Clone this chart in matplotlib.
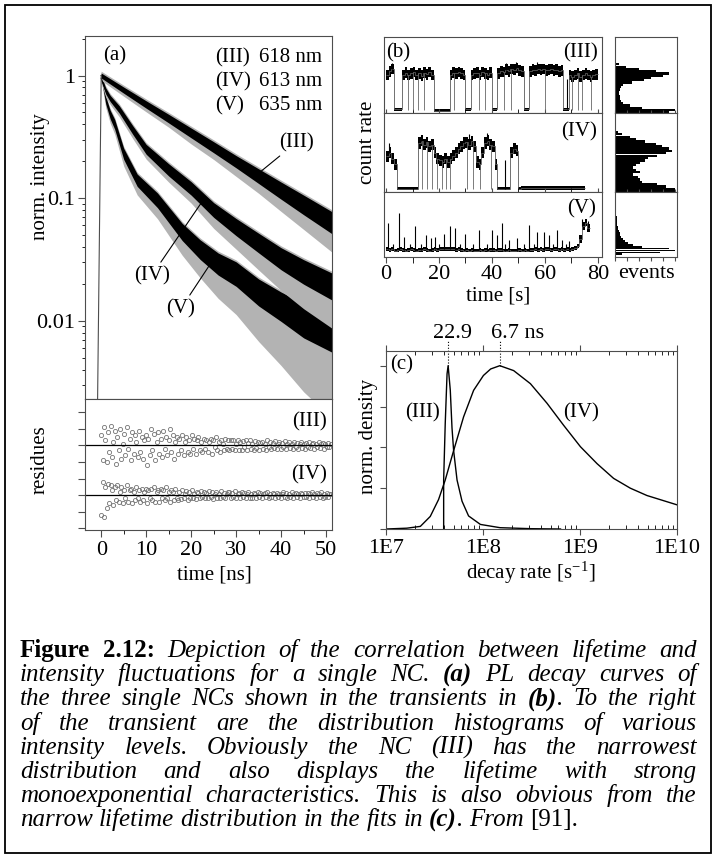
import numpy as np
from matplotlib import pyplot as plt
from matplotlib.patches import Rectangle
from matplotlib.ticker import FixedLocator, NullFormatter, LogLocator, MultipleLocator

plt.rcParams['font.family'] = ['Liberation Serif', 'DejaVu Serif']
plt.rcParams['mathtext.fontset'] = 'stix'

W, H = 717, 859
FS = 15
TFS = 16
EDGE = '0.3'

# ---------------- (a) PL decays: band centre, core half width, lower spike reach (decades)
t_III = [0, 5, 10, 15, 20, 25, 30, 35, 40, 45, 51.3]
c_III = [1.0, 0.76, 0.58, 0.445, 0.34, 0.26, 0.198, 0.151, 0.115, 0.088, 0.063]
w_III = [0.02, 0.025, 0.03, 0.035, 0.04, 0.045, 0.05, 0.06, 0.07, 0.08, 0.09]
o_III = [0.04, 0.05, 0.06, 0.07, 0.09, 0.10, 0.12, 0.14, 0.17, 0.20, 0.24]

t_IV = [0, 1, 2, 4, 7, 10, 15, 20, 25, 30, 35, 40, 45, 51.3]
c_IV = [0.95, 0.75, 0.65, 0.53, 0.36, 0.25, 0.17, 0.12, 0.08, 0.058, 0.043, 0.032, 0.025, 0.019]
w_IV = [0.02, 0.025, 0.025, 0.03, 0.035, 0.04, 0.05, 0.055, 0.06, 0.07, 0.08, 0.09, 0.10, 0.11]
o_IV = [0.04, 0.05, 0.05, 0.06, 0.07, 0.08, 0.10, 0.12, 0.15, 0.18, 0.22, 0.26, 0.30, 0.34]

t_V = [0, 1, 2, 3, 5, 8, 12.5, 18, 22, 26, 30, 35, 40, 45, 51.3]
c_V = [1.0, 0.63, 0.48, 0.40, 0.23, 0.14, 0.096, 0.053, 0.038, 0.029, 0.024, 0.017, 0.013, 0.010, 0.008]
w_V = [0.02, 0.03, 0.035, 0.04, 0.045, 0.05, 0.06, 0.07, 0.08, 0.09, 0.10, 0.11, 0.12, 0.14, 0.16]
o_V = [0.04, 0.06, 0.07, 0.08, 0.10, 0.12, 0.15, 0.19, 0.23, 0.28, 0.33, 0.40, 0.48, 0.58, 0.70]

rise_t = [-0.8, 0.0]
rise_y = [0.0023, 1.0]

# residues (units of one tick), equally spaced channels from 0 to 51 ns
res_III = [0.6, -0.9, 1.1, 0.3, -1.0, 0.8, -0.4, 1.2, -0.7, 0.2, 0.9, -1.1, 0.5, -0.3, 1.0, -0.8, 0.1, 0.7, -0.6,
           1.1, -0.2, 0.4, -0.9, 0.8, -0.5, 0.6, 0.2, -0.7, 0.9, -0.4, 0.5, -0.8, 0.3, 0.6, -1.2, 0.4, -0.6, 1.0,
           -0.3, 0.7, -0.9, 0.2, 0.8, -0.5, 0.4, -0.7, 0.9, -0.2, 0.5, -0.6, 0.3, 1.0, -0.4, 0.6, -0.8, 0.2, 0.5,
           -0.5, 0.4, -0.3, 0.6, -0.6, 0.2, 0.5, -0.4, 0.3, -0.5, 0.6, -0.2, 0.4, -0.5, 0.3, 0.5, -0.3, 0.2, -0.4,
           0.4, -0.2, 0.3, -0.4, 0.2, 0.4, -0.5, 0.3, -0.1, 0.5, -0.3, 0.2, -0.4, 0.3, 0.1, -0.3, 0.4, -0.2, 0.3,
           -0.3, 0.3, -0.2, 0.35, -0.3, 0.1, 0.3, -0.25, 0.2, -0.3, 0.25, -0.1, 0.3, -0.25, 0.15, 0.3, -0.2, 0.1, -0.3,
           0.25, -0.15, 0.2, -0.25, 0.15, 0.2, -0.2, 0.1, -0.25, 0.3, -0.1, 0.2, -0.2, 0.15, -0.15, 0.25, -0.2, 0.1, 0.2,
           -0.2, 0.15, -0.1, 0.25, -0.2, 0.1, 0.2, -0.15, 0.1, -0.2, 0.2, -0.1, 0.15, -0.2, 0.1, 0.2, -0.15, 0.1, -0.2,
           0.15, -0.1, 0.2, -0.15, 0.1, 0.15, -0.2, 0.1, -0.1, 0.2, -0.15, 0.1, 0.15, -0.2, 0.1, -0.1, 0.15, -0.1, 0.1]
res_IV = [-1.2, 0.8, -1.3, 0.5, -0.8, 0.7, -0.5, 0.6, 0.3, -0.6, 0.5, -0.3, 0.6, -0.4, 0.2, 0.5, -0.5, 0.3, -0.2,
          0.6, -0.4, 0.3, 0.4, -0.5, 0.2, -0.3, 0.5, -0.2, 0.3, -0.4, 0.4, -0.3, 0.2, 0.4, -0.5, 0.3, -0.2, 0.4,
          -0.3, 0.5, -0.4, 0.2, 0.3, -0.4, 0.4, -0.2, 0.3, -0.3, 0.5, -0.2, 0.2, -0.4, 0.3, 0.2, -0.3, 0.4, -0.2,
          -0.3, 0.2, -0.25, 0.3, -0.2, 0.1, 0.25, -0.3, 0.2, -0.15, 0.3, -0.2, 0.1, -0.25, 0.2, 0.15, -0.2, 0.25, -0.1,
          0.2, -0.2, 0.15, -0.15, 0.25, -0.1, 0.2, -0.25, 0.1, 0.2, -0.15, 0.1, -0.2, 0.25, -0.1, 0.15, -0.2, 0.1, 0.2,
          0.2, -0.2, 0.15, -0.1, 0.25, -0.2, 0.1, 0.15, -0.2, 0.2, -0.1, 0.15, -0.2, 0.1, 0.2, -0.15, 0.1, -0.2, 0.15,
          0.1, -0.15, 0.2, -0.1, 0.15, -0.2, 0.1, 0.15, -0.1, 0.2, -0.15, 0.1, -0.1, 0.15, 0.1, -0.2, 0.15, -0.1, 0.1,
          -0.15, 0.1, 0.2, -0.1, 0.15, -0.15, 0.1, -0.1, 0.2, -0.15, 0.1, 0.15, -0.1, 0.1, -0.2, 0.15, 0.1, -0.1, 0.15,
          -0.1, 0.15, -0.15, 0.1, 0.2, -0.1, 0.1, -0.15, 0.15, 0.1, -0.1, 0.2, -0.15, 0.1, -0.1, 0.15, -0.1, 0.1, 0.1]
res_t = np.linspace(0, 51, len(res_III))

# ---------------- (b) transients, 1 s bins, normalised count rate per strip
tr_III = [0.50, 0.55, 0.58, 0.05, 0.05, 0.05, 0.50, 0.53, 0.50, 0.52, 0.54, 0.50, 0.52, 0.49, 0.53,
          0.51, 0.54, 0.50, 0.03, 0.03, 0.03, 0.03, 0.03, 0.03, 0.50, 0.53, 0.52, 0.54, 0.52, 0.50,
          0.05, 0.05, 0.50, 0.52, 0.53, 0.50, 0.54, 0.52, 0.50, 0.53, 0.05, 0.05, 0.52, 0.55, 0.54,
          0.57, 0.55, 0.58, 0.57, 0.59, 0.56, 0.55, 0.05, 0.05, 0.55, 0.57, 0.56, 0.58, 0.57, 0.58,
          0.56, 0.57, 0.58, 0.56, 0.57, 0.55, 0.56, 0.05, 0.05, 0.50, 0.48, 0.50, 0.52, 0.48, 0.50,
          0.52, 0.50, 0.48, 0.50, 0.51]
up_III = [(2.3, 0.66), (45.5, 0.66), (49.2, 0.67), (57.0, 0.67), (68.3, 0.45)]
dip_III = [8.3, 10.2, 12.2, 14.4, 25.8, 35.2, 37.2, 44.6, 47.2, 60.1, 70.3, 72.6, 74.2, 77.3]

tr_IV = [0.45, 0.50, 0.42, 0.35, 0.04, 0.04, 0.04, 0.04, 0.04, 0.04, 0.04, 0.04, 0.62, 0.65, 0.60,
         0.63, 0.58, 0.60, 0.50, 0.42, 0.40, 0.38, 0.42, 0.38, 0.42, 0.46, 0.50, 0.55, 0.58, 0.62,
         0.63, 0.60, 0.64, 0.58, 0.38, 0.35, 0.50, 0.62, 0.65, 0.60, 0.58, 0.35, 0.04, 0.04, 0.04,
         0.04, 0.04, 0.50, 0.55, 0.52, 0.04, 0.05, 0.05, 0.05, 0.05, 0.05, 0.05, 0.05, 0.05, 0.05,
         0.05, 0.05, 0.05, 0.05, 0.05, 0.05, 0.05, 0.05, 0.05, 0.05, 0.05, 0.05, 0.05, 0.05, 0.05]
up_IV = [(1.0, 0.62), (13.2, 0.72), (29.5, 0.70), (31.3, 0.74), (38.3, 0.75), (44.8, 0.40), (48.5, 0.62)]
dip_IV = [13.5, 15.5, 17.5, 19.3, 21.0, 22.5, 24.3, 30.5, 33.0, 35.5, 39.5]

tr_V = [0.12, 0.11, 0.12, 0.10, 0.11, 0.12, 0.11, 0.10, 0.11, 0.12,
        0.11, 0.10, 0.11, 0.11, 0.12, 0.11, 0.10, 0.11, 0.12, 0.11,
        0.12, 0.13, 0.12, 0.12, 0.13, 0.12, 0.11, 0.12, 0.11, 0.10,
        0.11, 0.10, 0.11, 0.10, 0.10, 0.11, 0.10, 0.11, 0.10, 0.11,
        0.11, 0.10, 0.11, 0.11, 0.10, 0.10, 0.11, 0.10, 0.10, 0.10,
        0.11, 0.10, 0.11, 0.10, 0.11, 0.11, 0.12, 0.11, 0.12, 0.11,
        0.12, 0.12, 0.11, 0.12, 0.12, 0.11, 0.12, 0.11, 0.12, 0.11,
        0.12, 0.14, 0.17, 0.28, 0.48, 0.53, 0.45]
up_V = [(0.8, 0.52), (2.5, 0.2), (4.8, 0.67), (6.7, 0.31), (9.0, 0.2), (11.1, 0.47), (13.0, 0.2),
        (14.9, 0.34), (16.8, 0.29), (18.6, 0.31), (20.0, 0.2), (21.8, 0.36), (24.3, 0.47),
        (26.2, 0.44), (28.0, 0.2), (30.0, 0.36), (33.0, 0.2), (35.0, 0.42), (38.0, 0.2),
        (40.1, 0.42), (42.0, 0.34), (43.8, 0.52), (45.0, 0.2), (46.4, 0.26), (49.5, 0.29),
        (52.0, 0.2), (53.9, 0.49), (56.0, 0.2), (57.1, 0.39), (59.6, 0.39), (61.5, 0.34),
        (63.0, 0.2), (64.6, 0.42), (66.5, 0.26), (68.0, 0.2), (69.0, 0.24), (74.0, 0.58), (76.3, 0.56)]

# histograms of the count rate (bin centre in strip units, relative events)
hy_III = [0.67, 0.64, 0.61, 0.58, 0.55, 0.52, 0.49, 0.46, 0.43, 0.40, 0.37, 0.34, 0.31, 0.28,
          0.25, 0.22, 0.19, 0.16, 0.13, 0.10, 0.07, 0.04, 0.01]
hn_III = [0.02, 0.06, 0.18, 0.40, 0.68, 0.89, 0.80, 0.60, 0.48, 0.28, 0.14, 0.10, 0.08, 0.06,
          0.07, 0.09, 0.08, 0.10, 0.14, 0.25, 0.45, 1.0, 0.9]
hy_IV = [0.79, 0.76, 0.73, 0.70, 0.67, 0.64, 0.61, 0.58, 0.55, 0.52, 0.49, 0.46, 0.43, 0.40,
         0.37, 0.34, 0.31, 0.28, 0.25, 0.22, 0.19, 0.16, 0.13, 0.10, 0.07, 0.04, 0.01]
hn_IV = [0.02, 0.05, 0.12, 0.25, 0.35, 0.50, 0.68, 0.78, 0.90, 0.95, 0.85, 0.70, 0.55, 0.50,
         0.42, 0.35, 0.30, 0.35, 0.42, 0.30, 0.38, 0.42, 0.45, 0.70, 0.85, 1.0, 1.0]
hy_V = [0.04, 0.07, 0.10, 0.13, 0.16, 0.19, 0.22, 0.25, 0.28, 0.31, 0.34, 0.37, 0.40, 0.43,
        0.46, 0.49, 0.52, 0.55, 0.58, 0.61, 0.64, 0.67, 0.70, 0.73, 0.76, 0.79, 0.82, 0.85]
hn_V = [0.12, 0.75, 1.0, 0.9, 0.45, 0.30, 0.22, 0.16, 0.13, 0.10, 0.09, 0.075, 0.065, 0.055,
        0.05, 0.04, 0.035, 0.03, 0.03, 0.025, 0.02, 0.02, 0.018, 0.015, 0.015, 0.012, 0.01, 0.01]

# ---------------- (c) lifetime distributions
rate_III = [3.93e7, 3.93e7, 4.08e7, 4.26e7, 4.37e7, 4.6e7, 4.79e7, 4.98e7, 5.4e7, 6.08e7, 7.1e7,
            9.4e7, 1.5e8, 3.1e8, 6.3e8]
dens_III = [0.0, 0.30, 0.646, 0.95, 1.0, 0.85, 0.62, 0.48, 0.30, 0.17, 0.08, 0.028, 0.008, 0.002, 0.0]
rate_IV = [1.0e7, 1.64e7, 2.26e7, 2.86e7, 3.48e7, 4.08e7, 4.98e7, 6.31e7, 8.0e7, 1.01e8, 1.2e8,
           1.49e8, 2.07e8, 3.08e8, 4.57e8, 6.76e8, 1.01e9, 1.5e9, 2.22e9, 3.3e9, 4.9e9, 1.0e10]
dens_IV = [0.0, 0.005, 0.016, 0.077, 0.18, 0.30, 0.48, 0.687, 0.849, 0.94, 0.98, 1.0, 0.97,
           0.89, 0.77, 0.636, 0.504, 0.40, 0.31, 0.25, 0.205, 0.148]
tau_labels = [22.9, 6.7]  # ns, peak positions


def B(s):
    return [(s, 'b')]


def BI(s):
    return [(s, 'bi')]


CAPTION = [
    [B('Figure'), B('2.12:'), 'Depiction', 'of', 'the', 'correlation', 'between', 'lifetime', 'and'],
    ['intensity', 'fluctuations', 'for', 'a', 'single', 'NC.', BI('(a)'), 'PL', 'decay', 'curves', 'of'],
    ['the', 'three', 'single', 'NCs', 'shown', 'in', 'the', 'transients', 'in', BI('(b)') + [('.', 'i')],
     'To', 'the', 'right'],
    ['of', 'the', 'transient', 'are', 'the', 'distribution', 'histograms', 'of', 'various'],
    ['intensity', 'levels.', 'Obviously', 'the', 'NC', '(III)', 'has', 'the', 'narrowest'],
    ['distribution', 'and', 'also', 'displays', 'the', 'lifetime', 'with', 'strong'],
    ['monoexponential', 'characteristics.', 'This', 'is', 'also', 'obvious', 'from', 'the'],
    ['narrow', 'lifetime', 'distribution', 'in', 'the', 'fits', 'in', BI('(c)') + [('.', 'i')], 'From',
     [('[91].', 'r')]],
]

fig = plt.figure(figsize=(W / 100, H / 100), dpi=100)


def px_axes(l, t, r, b):
    ax = fig.add_axes([l / W, 1 - b / H, (r - l) / W, (b - t) / H])
    for s in ax.spines.values():
        s.set_color(EDGE)
    ax.tick_params(colors=EDGE, labelcolor='k', labelsize=TFS)
    return ax


def px_text(x, y, s, **kw):
    kw.setdefault('ha', 'center')
    kw.setdefault('va', 'center')
    kw.setdefault('fontsize', FS)
    return fig.text(x / W, 1 - y / H, s, **kw)


# ---------------- panel (a)
ax_a = px_axes(85, 36, 332, 399)
ax_a.set_yscale('log')
for t, c, w, o in [(t_V, c_V, w_V, o_V), (t_IV, c_IV, w_IV, o_IV), (t_III, c_III, w_III, o_III)]:
    c, w, o = np.array(c), np.array(w), np.array(o)
    ax_a.fill_between(t, c / 10 ** o, c * 10 ** (w + 0.015), color='0.7', lw=0)
    ax_a.fill_between(t, c / 10 ** w, c * 10 ** w, color='k', lw=0)
ax_a.plot(t_III, c_III, color='k', lw=0.8)
ax_a.plot(t_IV, c_IV, color='k', lw=0.8)
ax_a.plot(rise_t, rise_y, color='0.3', lw=0.8)
ax_a.set_xlim(-3.6, 51.3)
ax_a.set_ylim(0.0023, 2.1)
ax_a.set_yticks([0.01, 0.1, 1])
ax_a.set_yticklabels(['0.01', '0.1', '1'])
ax_a.yaxis.set_minor_locator(LogLocator(subs=np.arange(2, 10)))
ax_a.yaxis.set_minor_formatter(NullFormatter())
ax_a.tick_params(axis='y', which='major', direction='out', length=5, pad=2)
ax_a.tick_params(axis='y', which='minor', direction='out', length=2.5)
ax_a.tick_params(axis='x', which='both', bottom=False, labelbottom=False)

kw_ann = dict(fontsize=FS, ha='center', va='center',
              arrowprops=dict(arrowstyle='-', lw=0.8, color='k', shrinkA=1, shrinkB=0))
ax_a.annotate('(III)', xy=(34, 0.149), xytext=(43.3, 0.283), **kw_ann)
ax_a.annotate('(IV)', xy=(22.2, 0.091), xytext=(11.2, 0.0233), **kw_ann)
ax_a.annotate('(V)', xy=(24.4, 0.0296), xytext=(17.7, 0.01255), **kw_ann)

px_text(115, 56, '(a)')
for y, name, wl in [(58, '(III)', '618 nm'), (82, '(IV)', '613 nm'), (106, '(V)', '635 nm')]:
    px_text(215, y, name, ha='left')
    px_text(259, y, wl, ha='left')
px_text(40, 177, 'norm. intensity', rotation=90)

# residues
ax_r = px_axes(85, 399, 332, 530)
ax_r.plot(res_t, 3 + np.array(res_III), 'o', ms=3, mfc='none', mec='0.45', mew=0.6)
ax_r.plot(res_t, np.array(res_IV), 'o', ms=3, mfc='none', mec='0.45', mew=0.6)
ax_r.axhline(3, color='k', lw=0.9)
ax_r.axhline(0, color='k', lw=0.9)
ax_r.set_xlim(-3.6, 51.3)
ax_r.set_ylim(-2.1, 5.8)
ax_r.set_yticks(range(-2, 6))
ax_r.set_yticklabels([])
ax_r.set_xticks(range(0, 51, 10))
ax_r.xaxis.set_minor_locator(FixedLocator([-5, 5, 15, 25, 35, 45]))
ax_r.tick_params(axis='both', which='major', direction='out', length=5, pad=3)
ax_r.tick_params(axis='x', which='minor', direction='out', length=3)
ax_r.text(46.2, 4.45, '(III)', fontsize=FS, ha='center', va='center')
ax_r.text(46.2, 1.2, '(IV)', fontsize=FS, ha='center', va='center')
px_text(40, 460, 'residues', rotation=90)
px_text(214, 575, 'time [ns]')


# ---------------- panel (b)
def draw_trace(ax, vals, up, down, floor, half_on, half_off):
    v = np.asarray(vals, float)
    edges = np.arange(len(v) + 1)
    half = np.where(v > 0.2, half_on, half_off)
    ax.stairs(v + half, edges, baseline=v - half, fill=True, color='k', lw=0)
    ax.stairs(v, edges, baseline=None, color='0.35', lw=0.6)
    if up:
        ts = np.array([u[0] for u in up])
        ax.vlines(ts, v[ts.astype(int)], [u[1] for u in up], color='k', lw=0.8)
    if down:
        ds = np.array(down)
        ax.vlines(ds, floor, v[ds.astype(int)], color='0.4', lw=0.6)


rows = [(37, 113), (113, 192), (192, 257)]
traces = [(tr_III, up_III, dip_III, 0.04, 0.07, 0.02),
          (tr_IV, up_IV, dip_IV, 0.04, 0.07, 0.02),
          (tr_V, up_V, [], 0.1, 0.06, 0.03)]
hists = [(hy_III, hn_III), (hy_IV, hn_IV), (hy_V, hn_V)]
for i, ((top, bot), tr, hs) in enumerate(zip(rows, traces, hists)):
    ax = px_axes(384, top, 602, bot)
    draw_trace(ax, *tr)
    ax.set_xlim(-0.8, 81.6)
    ax.set_ylim(0, 1)
    ax.set_yticks([])
    ax.xaxis.set_major_locator(MultipleLocator(20))
    ax.xaxis.set_minor_locator(MultipleLocator(10))
    axh = px_axes(615, top, 677, bot)
    axh.barh(hs[0], hs[1], height=0.029, color='k', lw=0)
    axh.set_xlim(0, 1.03)
    axh.set_ylim(0, 1)
    axh.set_yticks([])
    axh.set_xticks(np.arange(0, 1.01, 0.2))
    if i < 2:
        ax.tick_params(axis='x', which='both', direction='in', length=3, labelbottom=False)
        axh.tick_params(axis='x', direction='in', length=2, labelbottom=False)
    else:
        ax.tick_params(axis='x', which='both', direction='out', length=4, pad=2)
        axh.tick_params(axis='x', direction='out', length=3, labelbottom=False)

px_text(398, 53, '(b)')
px_text(580, 53, '(III)')
px_text(579, 132, '(IV)')
px_text(582, 209, '(V)')
px_text(368, 142, 'count rate', rotation=90)
px_text(498, 296, 'time [s]')
px_text(646, 273, 'events', fontsize=TFS)

# ---------------- panel (c)
ax_c = px_axes(386, 351, 677, 529)
ax_c.plot(rate_III, dens_III, color='k', lw=1.0)
ax_c.plot(rate_IV, dens_IV, color='k', lw=1.0)
ax_c.set_xscale('log')
ax_c.set_xlim(1e7, 1e10)
ax_c.set_ylim(0, 1.09)
ax_c.set_xticks([1e7, 1e8, 1e9, 1e10])
ax_c.set_xticklabels(['1E7', '1E8', '1E9', '1E10'])
ax_c.xaxis.set_minor_locator(LogLocator(subs=np.arange(2, 10)))
ax_c.xaxis.set_minor_formatter(NullFormatter())
ax_c.set_yticks([0, 0.25, 0.5, 0.75, 1.0])
ax_c.set_yticklabels([])
ax_c.tick_params(axis='x', which='major', direction='out', length=4, top=True, pad=3)
ax_c.tick_params(axis='x', which='minor', direction='in', length=3, top=True)
ax_c.tick_params(axis='y', direction='out', length=4)
peaks = [1e9 / tau for tau in tau_labels]
ax_c.vlines(peaks, 1.0, 1.155, colors='k', linestyles=':', lw=0.8, clip_on=False)
px_text(453, 333, '22.9', fontsize=TFS)
px_text(518, 333, '6.7 ns', fontsize=TFS)
px_text(402, 365, '(c)')
px_text(422, 413, '(III)')
px_text(581, 413, '(IV)')
px_text(368, 436, 'norm. density', rotation=90)
px_text(531, 573, r'decay rate [s$^{\mathregular{-1}}$]')

# ---------------- caption, justified
styles = {'i': dict(style='italic'), 'b': dict(weight='bold'),
          'bi': dict(weight='bold', style='italic'), 'r': {}}
renderer = fig.canvas.get_renderer()


def build_line(words, fs):
    items = []
    for w in words:
        pieces = [(w, 'i')] if isinstance(w, str) else w
        objs = [fig.text(0, 0, txt, fontsize=fs, va='baseline', **styles[st]) for txt, st in pieces]
        items.append(objs)
    return items


def widths(items):
    return [[o.get_window_extent(renderer).width for o in objs] for objs in items]


LEFT, RIGHT = 20, 697
fs_try = 18
space = fig.text(0, 0, 'a a', fontsize=fs_try, style='italic')
aa = fig.text(0, 0, 'aa', fontsize=fs_try, style='italic')
sp = space.get_window_extent(renderer).width - aa.get_window_extent(renderer).width
space.remove()
aa.remove()
natural = []
for words in CAPTION[:-1]:
    items = build_line(words, fs_try)
    ws = widths(items)
    natural.append(sum(sum(w) for w in ws) + sp * (len(ws) - 1))
    for objs in items:
        for o in objs:
            o.remove()
cap_fs = 0.94 * fs_try * (RIGHT - LEFT - 6) / max(natural)
sp *= cap_fs / fs_try

for k, words in enumerate(CAPTION):
    y = 657 + 24.2 * k
    items = build_line(words, cap_fs)
    ws = widths(items)
    total = sum(sum(w) for w in ws)
    gap = sp if k == len(CAPTION) - 1 else (RIGHT - LEFT - total) / (len(ws) - 1)
    x = LEFT
    for objs, wl in zip(items, ws):
        for o, wd in zip(objs, wl):
            o.set_position((x / W, 1 - y / H))
            x += wd
        x += gap

fig.patches.append(Rectangle((5 / W, 1 - 853 / H), 706 / W, 848 / H, transform=fig.transFigure,
                             fill=False, lw=1.3, ec='k'))

fig.savefig('out.png', dpi=100)
